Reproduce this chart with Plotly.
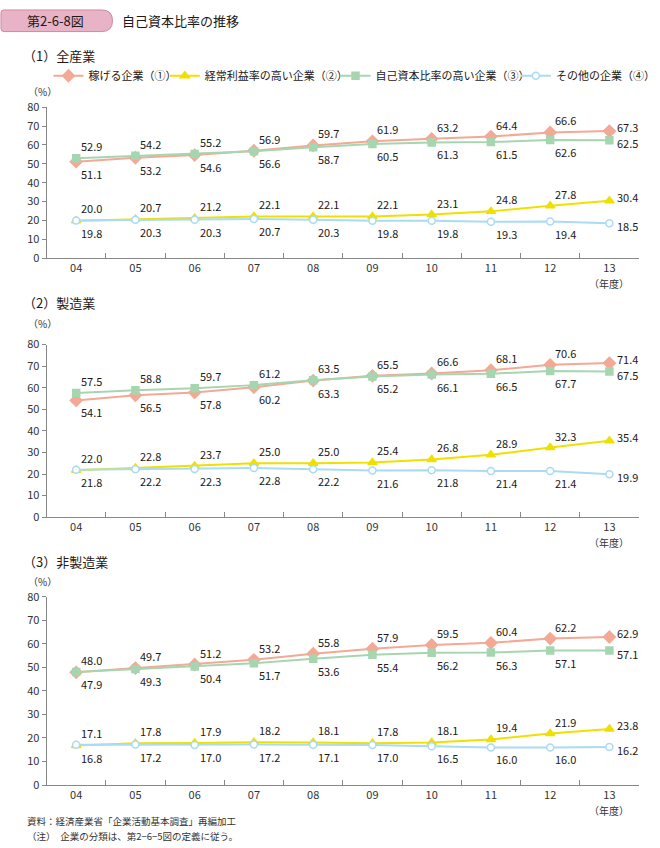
import plotly.graph_objects as go

years = ["04", "05", "06", "07", "08", "09", "10", "11", "12", "13"]
series_names = ["稼げる企業（①）", "経常利益率の高い企業（②）", "自己資本比率の高い企業（③）", "その他の企業（④）"]

# Panel 1: 全産業
all_s1 = [51.1, 53.2, 54.6, 56.9, 59.7, 61.9, 63.2, 64.4, 66.6, 67.3]
all_s2 = [19.8, 20.7, 21.2, 22.1, 22.1, 22.1, 23.1, 24.8, 27.8, 30.4]
all_s3 = [52.9, 54.2, 55.2, 56.6, 58.7, 60.5, 61.3, 61.5, 62.6, 62.5]
all_s4 = [20.0, 20.3, 20.3, 20.7, 20.3, 19.8, 19.8, 19.3, 19.4, 18.5]

# Panel 2: 製造業
mfg_s1 = [54.1, 56.5, 57.8, 60.2, 63.3, 65.5, 66.6, 68.1, 70.6, 71.4]
mfg_s2 = [21.8, 22.8, 23.7, 25.0, 25.0, 25.4, 26.8, 28.9, 32.3, 35.4]
mfg_s3 = [57.5, 58.8, 59.7, 61.2, 63.5, 65.2, 66.1, 66.5, 67.7, 67.5]
mfg_s4 = [22.0, 22.2, 22.3, 22.8, 22.2, 21.6, 21.8, 21.4, 21.4, 19.9]

# Panel 3: 非製造業
non_s1 = [47.9, 49.7, 51.2, 53.2, 55.8, 57.9, 59.5, 60.4, 62.2, 62.9]
non_s2 = [16.8, 17.8, 17.9, 18.2, 18.1, 17.8, 18.1, 19.4, 21.9, 23.8]
non_s3 = [48.0, 49.3, 50.4, 51.7, 53.6, 55.4, 56.2, 56.3, 57.1, 57.1]
non_s4 = [17.1, 17.2, 17.0, 17.2, 17.1, 17.0, 16.5, 16.0, 16.0, 16.2]

panel_titles = ["（1）全産業", "（2）製造業", "（3）非製造業"]
panels = [
    (all_s1, all_s2, all_s3, all_s4),
    (mfg_s1, mfg_s2, mfg_s3, mfg_s4),
    (non_s1, non_s2, non_s3, non_s4),
]
y_ticks = [0, 10, 20, 30, 40, 50, 60, 70, 80]

W, H = 660, 848
FONT = "Noto Sans CJK JP"

def px_x(p):
    return p / W

def px_y(p):
    return 1 - p / H

# plot areas in pixels (top, bottom)
plot_px = [(100, 254), (342, 518), (599, 791)]
title_px = [47, 299, 563]
pct_px = [84, 321, 583]
x_dom = [px_x(48), px_x(659)]

colors = ["#f3a995", "#f0e000", "#a6d6b0", "#a9dcf2"]
symbols = ["diamond", "triangle-up", "square", "circle"]
fills = ["#f3a995", "#f0e000", "#a6d6b0", "white"]
msizes = [9, 8, 7, 7]
legend_ids = ["legend", "legend2", "legend3", "legend4"]
legend_sym_px = [55, 175, 351, 537]

fig = go.Figure()
annotations = []

for pi, data in enumerate(panels):
    ax = "" if pi == 0 else str(pi + 1)
    xa, ya = "x" + ax, "y" + ax
    for si, vals in enumerate(data):
        fig.add_trace(go.Scatter(
            x=years, y=vals, xaxis=xa, yaxis=ya, mode="lines+markers",
            name=series_names[si], showlegend=(pi == 0), legend=legend_ids[si],
            line=dict(color=colors[si], width=2),
            marker=dict(symbol=symbols[si], size=msizes[si], color=fills[si],
                        line=dict(color=colors[si], width=1.5)),
            hoverinfo="skip",
        ))
    # data labels
    for a, b in [(0, 2), (1, 3)]:
        for i in range(len(years)):
            va, vb = data[a][i], data[b][i]
            for v, other in [(va, vb), (vb, va)]:
                above = v >= other
                if i == len(years) - 1:
                    annotations.append(dict(x=i, y=v, xref=xa, yref=ya, text=f"{v:.1f}", showarrow=False,
                                            xanchor="left", yanchor="middle", xshift=6,
                                            yshift=4 if above else -3,
                                            font=dict(size=11, color="#231815", family=FONT)))
                else:
                    annotations.append(dict(x=i, y=v, xref=xa, yref=ya, text=f"{v:.1f}", showarrow=False,
                                            xanchor="left", yanchor="bottom" if above else "top",
                                            xshift=3, yshift=2 if above else -2,
                                            font=dict(size=11, color="#231815", family=FONT)))
    top, bot = plot_px[pi]
    fig.layout["xaxis" + ax] = dict(
        domain=x_dom, anchor=ya, type="category", range=[-0.5, 9.5],
        tickson="boundaries", ticks="inside", ticklen=5, tickcolor="#888",
        showline=True, linecolor="#888", linewidth=1, showgrid=False, zeroline=False,
        tickfont=dict(size=11, color="#333", family=FONT), fixedrange=True,
    )
    fig.layout["yaxis" + ax] = dict(
        domain=[px_y(bot), px_y(top)], anchor=xa, range=[0, 80], tickvals=y_ticks,
        ticks="outside", ticklen=4, tickcolor="#888", showline=True, linecolor="#888",
        linewidth=1, showgrid=False, zeroline=False,
        tickfont=dict(size=11, color="#333", family=FONT), fixedrange=True,
    )
    annotations.append(dict(x=px_x(22), y=px_y(title_px[pi]), xref="paper", yref="paper",
                            text=panel_titles[pi], showarrow=False, xanchor="left", yanchor="middle",
                            font=dict(size=13, color="#231815", family=FONT)))
    annotations.append(dict(x=px_x(27), y=px_y(pct_px[pi]), xref="paper", yref="paper",
                            text="（%）", showarrow=False, xanchor="left", yanchor="middle",
                            font=dict(size=10, color="#333", family=FONT)))
    annotations.append(dict(x=9, y=px_y(bot + 26), xref=xa, yref="paper",
                            text="（年度）", showarrow=False, xanchor="center", yanchor="middle",
                            font=dict(size=10, color="#333", family=FONT)))

# header
x0, x1, y0, y1, r = 1, 116, 1, 23, 11
fig.add_shape(type="path", xref="paper", yref="paper",
              path=(f"M {px_x(x0 + 3)} {px_y(y0)} L {px_x(x1 - r)} {px_y(y0)} "
                    f"Q {px_x(x1)} {px_y(y0)} {px_x(x1)} {px_y((y0 + y1) / 2)} "
                    f"Q {px_x(x1)} {px_y(y1)} {px_x(x1 - r)} {px_y(y1)} "
                    f"L {px_x(x0 + 3)} {px_y(y1)} Q {px_x(x0)} {px_y(y1)} {px_x(x0)} {px_y(y1 - 3)} "
                    f"L {px_x(x0)} {px_y(y0 + 3)} Q {px_x(x0)} {px_y(y0)} {px_x(x0 + 3)} {px_y(y0)} Z"),
              fillcolor="#e8b3c7", line=dict(color="#d3869f", width=1))
annotations.append(dict(x=px_x(57), y=px_y(12), xref="paper", yref="paper", text="第2-6-8図",
                        showarrow=False, xanchor="center", yanchor="middle",
                        font=dict(size=13, color="#231815", family=FONT)))
annotations.append(dict(x=px_x(124), y=px_y(12), xref="paper", yref="paper", text="自己資本比率の推移",
                        showarrow=False, xanchor="left", yanchor="middle",
                        font=dict(size=13, color="#231815", family=FONT)))
annotations.append(dict(x=px_x(26), y=px_y(828), xref="paper", yref="paper",
                        text="資料：経済産業省「企業活動基本調査」再編加工",
                        showarrow=False, xanchor="left", yanchor="middle",
                        font=dict(size=9.5, color="#333", family=FONT)))
annotations.append(dict(x=px_x(26), y=px_y(843), xref="paper", yref="paper",
                        text="（注）　企業の分類は、第2−6−5図の定義に従う。",
                        showarrow=False, xanchor="left", yanchor="middle",
                        font=dict(size=9.5, color="#333", family=FONT)))

legend_layout = {}
for li, lid in enumerate(legend_ids):
    legend_layout[lid] = dict(
        orientation="h", x=px_x(legend_sym_px[li] - 5), y=px_y(68), xanchor="left", yanchor="middle",
        font=dict(size=11, color="#231815", family=FONT), bgcolor="rgba(0,0,0,0)",
        borderwidth=0,
    )

fig.update_layout(
    width=W, height=H, margin=dict(l=0, r=0, t=0, b=0),
    paper_bgcolor="white", plot_bgcolor="white",
    annotations=annotations,
    showlegend=True,
    font=dict(family=FONT),
    **legend_layout,
)

fig.write_html("out.html")
